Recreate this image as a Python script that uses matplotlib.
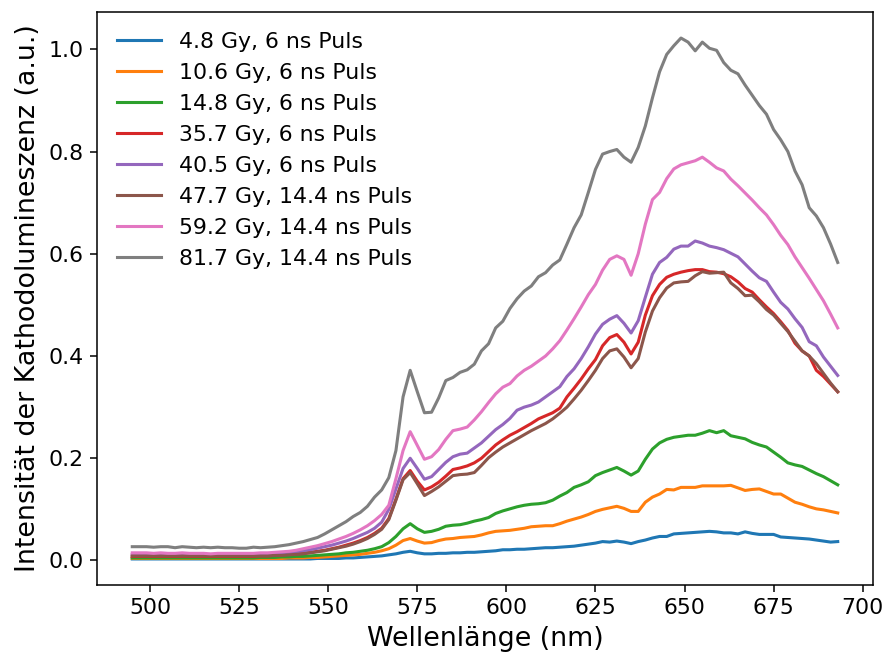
import numpy as np
import matplotlib
matplotlib.use('Agg')
import matplotlib.pyplot as plt

# wavelength grid of the spectrometer (nm), 2 nm steps
wavelength = np.arange(495, 694, 2)

labels = ['4.8 Gy, 6 ns Puls', '10.6 Gy, 6 ns Puls', '14.8 Gy, 6 ns Puls',
          '35.7 Gy, 6 ns Puls', '40.5 Gy, 6 ns Puls', '47.7 Gy, 14.4 ns Puls',
          '59.2 Gy, 14.4 ns Puls', '81.7 Gy, 14.4 ns Puls']

i_4_8 = [0.003, 0.003, 0.003, 0.003, 0.003, 0.003, 0.003, 0.003, 0.003, 0.003,
         0.003, 0.003, 0.003, 0.003, 0.003, 0.003, 0.003, 0.003, 0.003, 0.003,
         0.003, 0.003, 0.003, 0.003, 0.003, 0.003, 0.004, 0.004, 0.004, 0.004,
         0.005, 0.005, 0.006, 0.007, 0.008, 0.009, 0.011, 0.013, 0.016, 0.018,
         0.015, 0.013, 0.013, 0.014, 0.014, 0.015, 0.015, 0.016, 0.016, 0.017,
         0.018, 0.019, 0.021, 0.021, 0.022, 0.022, 0.023, 0.024, 0.025, 0.025,
         0.026, 0.027, 0.028, 0.030, 0.032, 0.034, 0.037, 0.036, 0.038, 0.036,
         0.033, 0.037, 0.040, 0.044, 0.047, 0.047, 0.052, 0.053, 0.054, 0.055,
         0.056, 0.057, 0.056, 0.054, 0.054, 0.052, 0.056, 0.053, 0.051, 0.051,
         0.051, 0.046, 0.045, 0.044, 0.043, 0.042, 0.040, 0.038, 0.036, 0.037]

i_10_6 = [0.004, 0.004, 0.004, 0.004, 0.004, 0.004, 0.004, 0.004, 0.004, 0.004,
          0.004, 0.004, 0.004, 0.004, 0.004, 0.004, 0.004, 0.004, 0.004, 0.004,
          0.004, 0.004, 0.005, 0.005, 0.005, 0.006, 0.006, 0.007, 0.008, 0.009,
          0.010, 0.011, 0.012, 0.014, 0.016, 0.019, 0.023, 0.030, 0.039, 0.043,
          0.038, 0.034, 0.035, 0.039, 0.042, 0.043, 0.045, 0.046, 0.047, 0.050,
          0.054, 0.057, 0.058, 0.059, 0.061, 0.063, 0.066, 0.067, 0.068, 0.068,
          0.072, 0.077, 0.081, 0.085, 0.090, 0.096, 0.100, 0.103, 0.106, 0.102,
          0.096, 0.096, 0.114, 0.124, 0.130, 0.139, 0.138, 0.143, 0.143, 0.143,
          0.146, 0.146, 0.146, 0.146, 0.147, 0.142, 0.137, 0.139, 0.140, 0.135,
          0.130, 0.130, 0.122, 0.114, 0.110, 0.105, 0.101, 0.099, 0.096, 0.093]

i_14_8 = [0.005, 0.005, 0.005, 0.005, 0.005, 0.005, 0.005, 0.005, 0.005, 0.005,
          0.005, 0.005, 0.005, 0.005, 0.005, 0.005, 0.005, 0.005, 0.006, 0.006,
          0.006, 0.007, 0.007, 0.008, 0.008, 0.009, 0.010, 0.011, 0.012, 0.013,
          0.015, 0.016, 0.018, 0.020, 0.023, 0.027, 0.035, 0.047, 0.062, 0.072,
          0.062, 0.055, 0.057, 0.061, 0.067, 0.069, 0.070, 0.073, 0.077, 0.080,
          0.084, 0.092, 0.097, 0.101, 0.105, 0.108, 0.110, 0.111, 0.113, 0.118,
          0.126, 0.133, 0.143, 0.148, 0.154, 0.166, 0.172, 0.177, 0.182, 0.175,
          0.167, 0.175, 0.198, 0.218, 0.230, 0.237, 0.241, 0.243, 0.245, 0.245,
          0.249, 0.254, 0.250, 0.254, 0.244, 0.241, 0.238, 0.231, 0.226, 0.222,
          0.212, 0.202, 0.191, 0.187, 0.184, 0.177, 0.170, 0.164, 0.156, 0.148]

i_35_7 = [0.008, 0.008, 0.008, 0.008, 0.008, 0.008, 0.008, 0.008, 0.008, 0.008,
          0.008, 0.008, 0.008, 0.008, 0.008, 0.008, 0.008, 0.008, 0.009, 0.009,
          0.010, 0.011, 0.012, 0.013, 0.014, 0.016, 0.018, 0.020, 0.023, 0.026,
          0.030, 0.034, 0.039, 0.045, 0.053, 0.063, 0.082, 0.120, 0.160, 0.176,
          0.155, 0.138, 0.144, 0.153, 0.165, 0.178, 0.181, 0.185, 0.191, 0.200,
          0.213, 0.226, 0.236, 0.245, 0.252, 0.260, 0.268, 0.277, 0.283, 0.289,
          0.298, 0.320, 0.337, 0.355, 0.375, 0.393, 0.420, 0.436, 0.442, 0.427,
          0.404, 0.427, 0.480, 0.518, 0.540, 0.554, 0.560, 0.564, 0.567, 0.569,
          0.569, 0.565, 0.564, 0.561, 0.555, 0.545, 0.532, 0.525, 0.510, 0.496,
          0.483, 0.467, 0.450, 0.425, 0.410, 0.400, 0.372, 0.360, 0.345, 0.330]

i_40_5 = [0.012, 0.012, 0.012, 0.012, 0.012, 0.011, 0.011, 0.011, 0.011, 0.011,
          0.011, 0.011, 0.011, 0.011, 0.011, 0.011, 0.011, 0.011, 0.012, 0.012,
          0.013, 0.014, 0.015, 0.017, 0.019, 0.021, 0.024, 0.027, 0.030, 0.034,
          0.038, 0.043, 0.049, 0.055, 0.063, 0.075, 0.100, 0.140, 0.180, 0.200,
          0.180, 0.159, 0.164, 0.178, 0.192, 0.203, 0.208, 0.210, 0.220, 0.230,
          0.243, 0.256, 0.266, 0.278, 0.294, 0.300, 0.304, 0.310, 0.320, 0.330,
          0.340, 0.360, 0.375, 0.395, 0.418, 0.443, 0.462, 0.472, 0.479, 0.464,
          0.445, 0.469, 0.515, 0.560, 0.583, 0.593, 0.609, 0.615, 0.615, 0.625,
          0.621, 0.615, 0.612, 0.608, 0.601, 0.594, 0.580, 0.566, 0.553, 0.546,
          0.525, 0.505, 0.492, 0.473, 0.456, 0.428, 0.420, 0.398, 0.380, 0.362]

i_47_7 = [0.009, 0.009, 0.009, 0.009, 0.009, 0.009, 0.009, 0.009, 0.009, 0.009,
          0.009, 0.009, 0.009, 0.009, 0.009, 0.009, 0.009, 0.009, 0.009, 0.009,
          0.010, 0.010, 0.011, 0.012, 0.013, 0.015, 0.017, 0.019, 0.022, 0.025,
          0.028, 0.032, 0.037, 0.043, 0.051, 0.061, 0.080, 0.118, 0.158, 0.172,
          0.150, 0.127, 0.135, 0.144, 0.155, 0.166, 0.168, 0.169, 0.172, 0.186,
          0.201, 0.212, 0.222, 0.230, 0.238, 0.246, 0.254, 0.261, 0.268, 0.277,
          0.288, 0.300, 0.316, 0.333, 0.352, 0.372, 0.395, 0.410, 0.414, 0.398,
          0.377, 0.395, 0.447, 0.488, 0.514, 0.533, 0.543, 0.545, 0.546, 0.557,
          0.565, 0.562, 0.563, 0.564, 0.543, 0.532, 0.518, 0.519, 0.506, 0.491,
          0.480, 0.464, 0.448, 0.429, 0.410, 0.400, 0.385, 0.366, 0.347, 0.330]

i_59_2 = [0.015, 0.015, 0.015, 0.014, 0.015, 0.014, 0.014, 0.015, 0.014, 0.014,
          0.014, 0.013, 0.014, 0.014, 0.014, 0.014, 0.014, 0.014, 0.015, 0.015,
          0.016, 0.017, 0.018, 0.020, 0.023, 0.026, 0.029, 0.033, 0.037, 0.042,
          0.047, 0.053, 0.060, 0.068, 0.078, 0.090, 0.108, 0.160, 0.215, 0.252,
          0.225, 0.198, 0.203, 0.217, 0.237, 0.254, 0.257, 0.261, 0.275, 0.291,
          0.309, 0.326, 0.339, 0.346, 0.361, 0.372, 0.380, 0.390, 0.400, 0.414,
          0.430, 0.451, 0.473, 0.496, 0.520, 0.540, 0.568, 0.589, 0.596, 0.589,
          0.558, 0.600, 0.658, 0.706, 0.720, 0.747, 0.766, 0.774, 0.778, 0.782,
          0.789, 0.779, 0.768, 0.762, 0.746, 0.733, 0.719, 0.705, 0.690, 0.676,
          0.657, 0.636, 0.618, 0.594, 0.573, 0.552, 0.530, 0.508, 0.482, 0.455]

i_81_7 = [0.027, 0.027, 0.027, 0.026, 0.027, 0.027, 0.025, 0.027, 0.026, 0.025,
          0.026, 0.025, 0.026, 0.025, 0.025, 0.024, 0.024, 0.026, 0.025, 0.026,
          0.027, 0.029, 0.031, 0.034, 0.037, 0.041, 0.045, 0.052, 0.060, 0.068,
          0.076, 0.086, 0.094, 0.106, 0.124, 0.138, 0.162, 0.215, 0.320, 0.372,
          0.330, 0.289, 0.290, 0.318, 0.352, 0.358, 0.368, 0.373, 0.384, 0.410,
          0.424, 0.455, 0.468, 0.493, 0.512, 0.527, 0.537, 0.555, 0.563, 0.578,
          0.588, 0.619, 0.651, 0.676, 0.720, 0.765, 0.795, 0.800, 0.804, 0.789,
          0.779, 0.808, 0.850, 0.905, 0.956, 0.990, 1.007, 1.022, 1.014, 0.997,
          1.014, 1.002, 0.998, 0.974, 0.959, 0.952, 0.930, 0.910, 0.890, 0.873,
          0.843, 0.823, 0.800, 0.762, 0.735, 0.690, 0.674, 0.651, 0.619, 0.583]

spectra = [i_4_8, i_10_6, i_14_8, i_35_7, i_40_5, i_47_7, i_59_2, i_81_7]

fig = plt.figure(figsize=(884 / 138, 655 / 138), dpi=138)
ax = fig.add_axes([97 / 884, 1 - 585 / 655, 776 / 884, 573 / 655])
for spec, lab in zip(spectra, labels):
    ax.plot(wavelength, spec, label=lab, lw=1.6)

ax.set_xlabel('Wellenlänge (nm)', fontsize=14)
ax.set_ylabel('Intensität der Kathodolumineszenz (a.u.)', fontsize=14)
ax.tick_params(labelsize=11.5)
ax.legend(loc='upper left', frameon=False, fontsize=11.5)

fig.savefig('out.png', dpi=138)
